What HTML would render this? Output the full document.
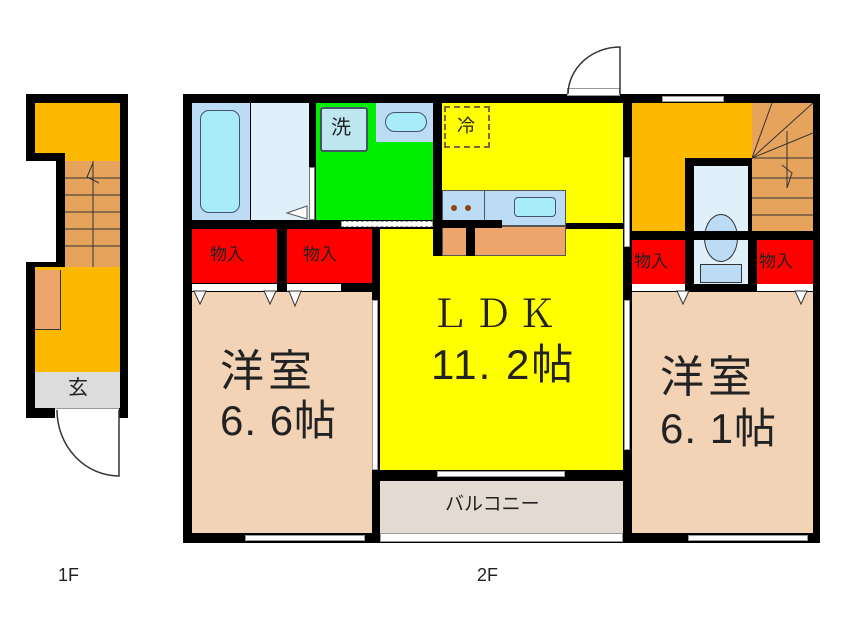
<!DOCTYPE html>
<html><head><meta charset="utf-8"><style>
body{margin:0;width:846px;height:634px;background:#fff;position:relative;overflow:hidden;font-family:"Liberation Sans","Noto Sans CJK JP",sans-serif}
div{position:absolute;box-sizing:border-box}
.b{background:#000}
.t{color:#222;white-space:nowrap;line-height:1}
.s{font-family:"Liberation Serif","Noto Serif CJK SC",serif}
</style></head><body>
<!-- 1F -->
<div class="b" style="left:26px;top:94px;width:102px;height:67px"></div>
<div class="b" style="left:56px;top:155px;width:72px;height:114px"></div>
<div class="b" style="left:26px;top:262px;width:102px;height:156px"></div>
<div style="left:35px;top:103px;width:85px;height:50px;background:#fdb900"></div>
<div style="left:65px;top:150px;width:55px;height:11px;background:#fdb900"></div>
<div style="left:65px;top:161px;width:55px;height:106px;background:#e6a35c"></div>
<svg style="position:absolute;left:65px;top:161px" width="55" height="106"><g stroke="#333" stroke-width="1"><line x1="28" y1="0" x2="28" y2="106"/><line x1="0" y1="17" x2="55" y2="17"/><line x1="0" y1="34" x2="55" y2="34"/><line x1="0" y1="51" x2="55" y2="51"/><line x1="0" y1="68" x2="55" y2="68"/><line x1="0" y1="85" x2="55" y2="85"/><polyline points="28,2 22,16 34,22" fill="none"/></g></svg>
<div style="left:35px;top:267px;width:85px;height:105px;background:#fdb900"></div>
<div style="left:35px;top:270px;width:26px;height:60px;background:#eea56b;border-right:1px solid #333;border-bottom:1px solid #333"></div>
<div style="left:35px;top:372px;width:85px;height:36px;background:#dcdcdc"></div>
<div class="t" style="left:68px;top:378px;font-size:20px">玄</div>
<div style="left:55px;top:408px;width:64px;height:10px;background:#fff;border-top:1px solid #999"></div>
<svg style="position:absolute;left:55px;top:410px" width="70" height="70"><path d="M2,0 A62,66 0 0 0 64,66 L64,0" fill="none" stroke="#333" stroke-width="1.5"/></svg>
<div class="t" style="left:58px;top:566px;font-size:18px">1F</div>
<!-- 2F outer -->
<div class="b" style="left:183px;top:94px;width:637px;height:449px"></div>
<!-- bath -->
<div style="left:192px;top:103px;width:58px;height:117px;background:#bcdcf5"></div>
<div style="left:200px;top:110px;width:40px;height:103px;background:#a8ecfa;border:1.5px solid #456;border-radius:9px"></div>
<div style="left:251px;top:103px;width:58px;height:117px;background:#dff0fa"></div>
<div style="left:309px;top:167px;width:6px;height:53px;background:#fff;border:1px solid #777"></div>
<svg style="position:absolute;left:285px;top:205px" width="25" height="15"><polygon points="22,1 2,8 22,14" fill="#fff" stroke="#555"/></svg>
<!-- wash -->
<div style="left:316px;top:103px;width:117px;height:117px;background:#00ee00"></div>
<div style="left:320px;top:107px;width:48px;height:45px;background:#bde6ef;border:2px solid #456;border-radius:3px"></div>
<div class="t" style="left:331px;top:118px;font-size:20px">洗</div>
<div style="left:376px;top:103px;width:57px;height:39px;background:#bcdcf5"></div>
<div style="left:385px;top:112px;width:42px;height:20px;background:#a8ecfa;border:1.5px solid #456;border-radius:10px"></div>
<div style="left:341px;top:221px;width:92px;height:6px;background:#fff;border:1px dashed #999"></div>
<!-- LDK -->
<div style="left:442px;top:103px;width:181px;height:120px;background:#ffff00"></div>
<div style="left:380px;top:229px;width:243px;height:241px;background:#ffff00"></div>
<div style="left:444px;top:106px;width:46px;height:42px;border:2px dashed #7a6a30"></div>
<div class="t" style="left:457px;top:117px;font-size:18px">冷</div>
<div style="left:442px;top:190px;width:124px;height:36px;background:#bcdcf5;border:1px solid #555"></div>
<div style="left:514px;top:197px;width:42px;height:20px;background:#a8ecfa;border:1.5px solid #456;border-radius:4px"></div>
<div style="left:451px;top:205px;width:6px;height:6px;border-radius:50%;background:#8b4513"></div>
<div style="left:465px;top:205px;width:6px;height:6px;border-radius:50%;background:#8b4513"></div>
<div style="left:484px;top:190px;width:1px;height:36px;background:#555"></div>
<div style="left:442px;top:226px;width:124px;height:30px;background:#eea56b;border:1px solid #555"></div>
<div class="b" style="left:433px;top:103px;width:9px;height:153px"></div>
<div class="b" style="left:433px;top:220px;width:69px;height:8px"></div>
<div class="b" style="left:466px;top:220px;width:9px;height:36px"></div>
<div class="t s" style="left:430px;top:296px;font-size:38px;letter-spacing:6px">ＬＤＫ</div>
<div class="t" style="left:431px;top:344px;font-size:42px;letter-spacing:2px">11. 2帖</div>
<!-- front door -->
<div style="left:567px;top:88px;width:53px;height:8px;background:#fff;border:1px solid #999"></div>
<svg style="position:absolute;left:565px;top:44px" width="60" height="55"><path d="M3,50 A52,48 0 0 1 55,3 L55,50" fill="none" stroke="#333" stroke-width="1.5"/></svg>
<!-- left storages -->
<div style="left:192px;top:229px;width:85px;height:54px;background:#ff0000"></div>
<div style="left:287px;top:229px;width:85px;height:54px;background:#ff0000"></div>
<div class="t" style="left:210px;top:246px;font-size:17px">物入</div>
<div class="t" style="left:303px;top:246px;font-size:17px">物入</div>
<div style="left:192px;top:284px;width:85px;height:7px;background:#fff"></div>
<div style="left:287px;top:284px;width:54px;height:7px;background:#fff"></div>
<!-- room 6.6 -->
<div style="left:192px;top:292px;width:180px;height:241px;background:#f2d3b5"></div>
<svg style="position:absolute;left:192px;top:290px" width="120" height="20"><g fill="#fff" stroke="#333"><polygon points="2,1 14,1 8,14"/><polygon points="72,1 84,1 78,14"/><polygon points="97,1 109,1 103,16"/></g></svg>
<div style="left:372px;top:300px;width:6px;height:170px;background:#fff;border:1px solid #999"></div>
<div class="t" style="left:220px;top:350px;font-size:44px;letter-spacing:4px">洋室</div>
<div class="t" style="left:220px;top:400px;font-size:42px;letter-spacing:1px">6. 6帖</div>
<div style="left:245px;top:535px;width:120px;height:6px;background:#fff;border:1px solid #999"></div>
<!-- balcony -->
<div style="left:380px;top:481px;width:243px;height:52px;background:#e3dbd2"></div>
<div style="left:380px;top:533px;width:243px;height:9px;background:#fff;border:1px solid #999"></div>
<div style="left:437px;top:471px;width:128px;height:6px;background:#fff;border:1px solid #999"></div>
<div class="t" style="left:445px;top:495px;font-size:19px">バルコニー</div>
<!-- right section -->
<div style="left:632px;top:103px;width:120px;height:128px;background:#fdb900"></div>
<div class="b" style="left:685px;top:158px;width:68px;height:135px"></div>
<div style="left:694px;top:166px;width:54px;height:118px;background:#dff0fa"></div>
<div style="left:704px;top:214px;width:34px;height:48px;background:#bcdcf5;border:1.5px solid #333;border-radius:50%"></div>
<div style="left:700px;top:264px;width:42px;height:19px;background:#bcdcf5;border:1px solid #333"></div>
<div style="left:752px;top:103px;width:61px;height:128px;background:#e6a35c"></div>
<svg style="position:absolute;left:752px;top:103px" width="61" height="128"><g stroke="#333" stroke-width="1" fill="none"><line x1="0" y1="55" x2="20" y2="0"/><line x1="0" y1="55" x2="61" y2="0"/><line x1="0" y1="55" x2="61" y2="30"/><line x1="0" y1="55" x2="61" y2="55"/><line x1="0" y1="75" x2="61" y2="75"/><line x1="0" y1="95" x2="61" y2="95"/><line x1="0" y1="112" x2="61" y2="112"/><polyline points="35,28 35,85 40,70 30,62"/></g></svg>
<div class="b" style="left:632px;top:231px;width:181px;height:9px"></div>
<div style="left:632px;top:240px;width:53px;height:44px;background:#ff0000"></div>
<div style="left:757px;top:240px;width:56px;height:44px;background:#ff0000"></div>
<div class="t" style="left:634px;top:253px;font-size:17px">物入</div>
<div class="t" style="left:759px;top:253px;font-size:17px">物入</div>
<div style="left:632px;top:284px;width:53px;height:7px;background:#fff"></div>
<div style="left:757px;top:284px;width:56px;height:7px;background:#fff"></div>
<div style="left:662px;top:96px;width:62px;height:6px;background:#fff;border:1px solid #999"></div>
<div style="left:624px;top:157px;width:6px;height:90px;background:#fff;border:1px solid #999"></div>
<!-- room 6.1 -->
<div style="left:632px;top:292px;width:181px;height:241px;background:#f2d3b5"></div>
<svg style="position:absolute;left:632px;top:290px" width="181" height="20"><g fill="#fff" stroke="#333"><polygon points="45,1 57,1 51,14"/><polygon points="163,1 175,1 169,14"/></g></svg>
<div style="left:624px;top:300px;width:6px;height:150px;background:#fff;border:1px solid #999"></div>
<div class="t" style="left:660px;top:356px;font-size:44px;letter-spacing:4px">洋室</div>
<div class="t" style="left:660px;top:408px;font-size:42px;letter-spacing:1px">6. 1帖</div>
<div style="left:688px;top:535px;width:120px;height:6px;background:#fff;border:1px solid #999"></div>
<div class="t" style="left:477px;top:566px;font-size:18px">2F</div>
</body></html>
